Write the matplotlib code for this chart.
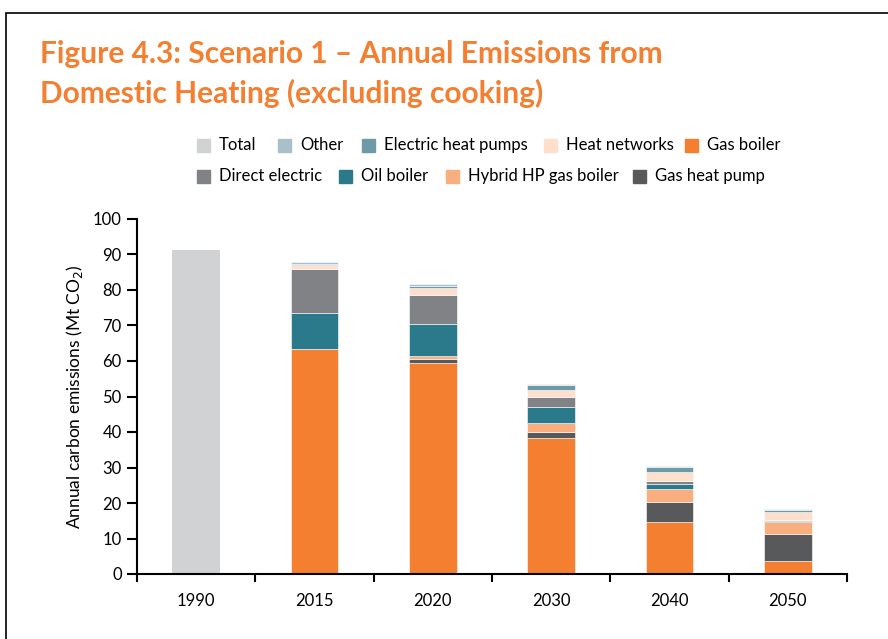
import matplotlib
matplotlib.use('Agg')
import matplotlib.pyplot as plt
from matplotlib.patches import Rectangle
import numpy as np

plt.rcParams['font.family'] = ['Lato', 'DejaVu Sans']

# 数据（Mt CO2）
years = ['1990', '2015', '2020', '2030', '2040', '2050']
total = [91.3, 0, 0, 0, 0, 0]
gas_boiler = [0, 63.4, 59.4, 38.3, 14.6, 3.7]
gas_heat_pump = [0, 0, 1.2, 1.8, 5.8, 7.5]
hybrid_hp = [0, 0, 0.9, 2.4, 3.6, 3.4]
oil_boiler = [0, 10.2, 8.8, 4.6, 1.4, 0.4]
direct_electric = [0, 12.2, 8.3, 2.8, 0.8, 0.1]
heat_networks = [0, 1.2, 2.0, 1.9, 2.5, 2.5]
electric_hp = [0, 0.4, 0.6, 1.4, 1.5, 0.4]
other = [0, 0.4, 0.5, 0.3, 0.3, 0.3]

# 堆叠顺序（自下而上）
stack = [
    ('Gas boiler', gas_boiler, '#F47F31'),
    ('Gas heat pump', gas_heat_pump, '#58595B'),
    ('Hybrid HP gas boiler', hybrid_hp, '#F9AE80'),
    ('Oil boiler', oil_boiler, '#2B7A8C'),
    ('Direct electric', direct_electric, '#808285'),
    ('Heat networks', heat_networks, '#FDDFCC'),
    ('Electric heat pumps', electric_hp, '#6E9AA8'),
    ('Other', other, '#A9BFCA'),
]
colors = {name: c for name, _, c in stack}
colors['Total'] = '#D1D2D4'

fig = plt.figure(figsize=(8.88, 6.39), dpi=100)
ax = fig.add_axes([137/888, 1-574/639, (847-137)/888, (574-219)/639])

x = np.arange(len(years))
w = 0.405
ax.bar(x, total, w, color=colors['Total'], edgecolor='none')
bottom = np.zeros(len(years))
for name, vals, c in stack:
    ax.bar(x, vals, w, bottom=bottom, color=c, edgecolor='white', linewidth=0.4)
    bottom += np.array(vals)

ax.set_xlim(-0.5, len(years) - 0.5)
ax.set_ylim(0, 100)
ax.set_yticks(range(0, 101, 10))
ax.set_xticks(x)
ax.set_xticklabels(years)
ax.set_xticks(np.arange(-0.5, len(years)), minor=True)
ax.tick_params(axis='x', which='major', length=0, pad=14, labelsize=12)
ax.tick_params(axis='x', which='minor', length=6, width=1.5, direction='out')
ax.tick_params(axis='y', length=7, width=1.5, pad=4, labelsize=12)
for s in ['top', 'right']:
    ax.spines[s].set_visible(False)
for s in ['left', 'bottom']:
    ax.spines[s].set_linewidth(1.5)
ax.set_ylabel('Annual carbon emissions (Mt CO$_2$)', fontsize=12.5, labelpad=6)

# 标题
title_color = '#F47F31'
fig.text(40/888, 1-54/639, 'Figure 4.3: Scenario 1 \u2013 Annual Emissions from',
         color=title_color, fontsize=21.5, fontweight='bold', va='center', ha='left')
fig.text(40/888, 1-93/639, 'Domestic Heating (excluding cooking)',
         color=title_color, fontsize=21.5, fontweight='bold', va='center', ha='left')

# 图例（两行）
rows = [
    (145, [('Total', 197), ('Other', 278), ('Electric heat pumps', 362),
           ('Heat networks', 544), ('Gas boiler', 685)]),
    (176, [('Direct electric', 197), ('Oil boiler', 339),
           ('Hybrid HP gas boiler', 446), ('Gas heat pump', 633)]),
]
sq = 13
for ypix, items in rows:
    for name, xpix in items:
        fig.patches.append(Rectangle((xpix/888, 1-(ypix+sq/2)/639), sq/888, sq/639,
                                     transform=fig.transFigure, color=colors[name]))
        fig.text((xpix+22)/888, 1-ypix/639, name, fontsize=12, va='center', ha='left')

# 外框（只露出左边和上边）
top = 1 - 13/639
fig.patches.append(Rectangle((6/888, -0.1), 1.2, top + 0.1,
                             transform=fig.transFigure, fill=False,
                             edgecolor='black', linewidth=1.2))

fig.savefig('out.png', dpi=100)
